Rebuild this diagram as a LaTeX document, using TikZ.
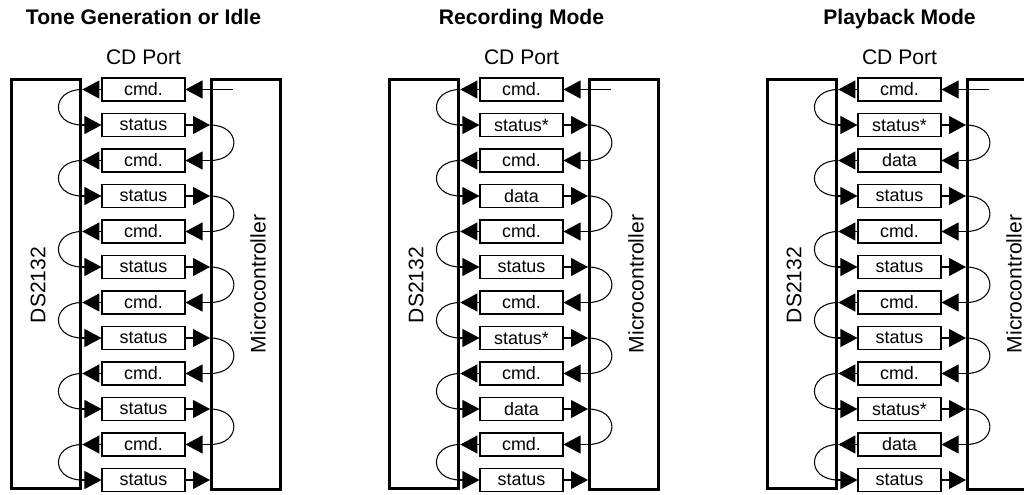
\documentclass[tikz,border=0pt]{standalone}
\usepackage{fontspec}
\setmainfont{Liberation Sans}
\usetikzlibrary{arrows.meta}

\tikzset{
  chip/.style={draw, line width=1.9pt, anchor=north west, minimum width=1.38cm, minimum height=8.18cm, inner sep=0pt},
  msg/.style={draw, line width=0.6pt, minimum width=1.66cm, minimum height=0.46cm, inner sep=0pt, font=\fontsize{10.2}{12}\selectfont},
  flow/.style={line width=0.6pt, -{Triangle[length=0.34cm, width=0.36cm]}},
  hop/.style={line width=0.6pt, looseness=2.3},
  head/.style={anchor=base, font=\bfseries\fontsize{12}{14}\selectfont},
  port/.style={anchor=base, font=\fontsize{12}{14}\selectfont},
  side/.style={rotate=90, inner sep=0pt, font=\fontsize{12}{14}\selectfont}
}

% one panel: x offset, title, messages from top to bottom
\newcommand\cdpanel[3]{%
\begin{scope}[shift={(#1,0)}]
\node[head] (mode) at (143.5,24) {#2};
\node[port] (cd) at (143.5,64) {CD Port};
\node[chip] (ds) at (10,78) {};
\node[chip, minimum height=8.2cm] (mc) at (210,78) {};
\node[side] (dsname) at (38,285) {DS2132};
\node[side] (mcname) at (258,284) {Microcontroller};
\coordinate (host) at (233,89.5);
\foreach \m [count=\k] in {#3} {
  \node[msg] (m\k) at (143.5,{89.5+35.5*(\k-1)}) {\m};
  \ifodd\k
    \draw[flow] (m\k) -- (ds.east |- m\k);
    \ifnum\k=1 \draw[flow] (host) -- (m\k); \else \draw[flow] (mc.west |- m\k) -- (m\k); \fi
  \else
    \draw[flow] (ds.east |- m\k) -- (m\k);
    \draw[flow] (m\k) -- (mc.west |- m\k);
  \fi
}
\foreach \k in {1,3,...,11} {
  \pgfmathtruncatemacro\n{\k+1}
  \draw[hop] (ds.east |- m\k) to[out=180, in=180] (ds.east |- m\n);
}
\foreach \k in {2,4,...,10} {
  \pgfmathtruncatemacro\n{\k+1}
  \draw[hop] (mc.west |- m\k) to[out=0, in=0] (mc.west |- m\n);
}
\end{scope}}

\begin{document}
\begin{tikzpicture}[x=0.02cm, y=-0.02cm]
\useasboundingbox (0,0) rectangle (1024,494);
\clip (0,0) rectangle (1024,494);

\cdpanel{0}{Tone Generation or Idle}{cmd.,status,cmd.,status,cmd.,status,cmd.,status,cmd.,status,cmd.,status}
\cdpanel{378}{Recording Mode}{cmd.,status*,cmd.,data,cmd.,status,cmd.,status*,cmd.,data,cmd.,status}
\cdpanel{756}{Playback Mode}{cmd.,status*,data,status,cmd.,status,cmd.,status,cmd.,status*,data,status}
\end{tikzpicture}
\end{document}
